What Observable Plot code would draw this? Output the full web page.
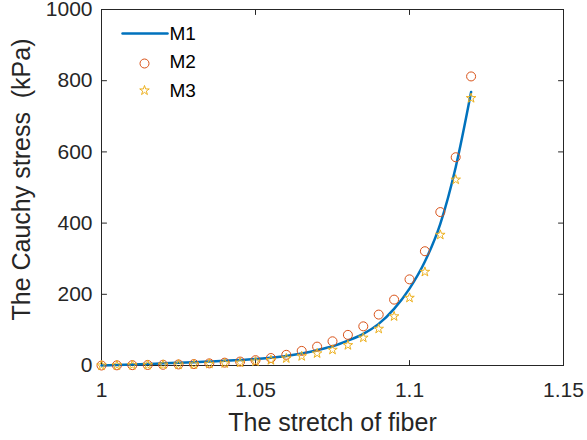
<!DOCTYPE html>
<html>
<head>
<meta charset="utf-8">
<script src="https://cdn.jsdelivr.net/npm/d3@7"></script>
<script src="https://cdn.jsdelivr.net/npm/@observablehq/plot@0.6"></script>
<style>
  html, body { margin: 0; padding: 0; background: #fff; }
  #chart svg { display: block; }
</style>
</head>
<body>
<div id="chart"></div>
<script>
// ---- data ----
const stretch = [1.000, 1.005, 1.010, 1.015, 1.020, 1.025, 1.030, 1.035, 1.040, 1.045,
                 1.050, 1.055, 1.060, 1.065, 1.070, 1.075, 1.080, 1.085, 1.090, 1.095,
                 1.100, 1.105, 1.110, 1.115, 1.120];
const M1 = [0, 1.5, 3, 4.5, 6, 7.5, 9, 11, 13, 15.5,
            18, 22, 27, 34, 43, 54, 70, 89, 117, 159,
            216, 292, 398, 557, 768];
const M2 = [0, 0.5, 1, 1.5, 2, 3, 4, 6, 8, 11,
            15, 21, 30, 41, 53, 68, 86, 110, 143, 185,
            242, 321, 431, 585, 812];
const M3 = [0, 0.5, 1, 1.5, 2, 2.5, 3, 4.5, 6, 8,
            11, 15, 20, 26, 34, 44, 57, 78, 103, 138,
            190, 263, 367, 522, 751];
const seriesNames = ["M1", "M2", "M3"];
const xTicks = [1, 1.05, 1.1, 1.15];
const xTickLabels = ["1", "1.05", "1.1", "1.15"];
const yTicks = [0, 200, 400, 600, 800, 1000];
const yTickLabels = ["0", "200", "400", "600", "800", "1000"];
const xLabel = "The stretch of fiber";
const yLabel = "The Cauchy stress\u00a0 (kPa)";

const colors = {M1: "#0072BD", M2: "#D95319", M3: "#EDB120"};
const ink = "#262626";
const font = "'Liberation Sans', Arial, Helvetica, sans-serif";

const rows = stretch.map((s, i) => ({x: s, m1: M1[i], m2: M2[i], m3: M3[i]}));

// a plain line segment shape for vector marks (ticks, legend swatch)
const segment = {
  draw(context, l) { context.moveTo(0, 0); context.lineTo(0, -l); }
};

const tickOpts = {length: 5, anchor: "start", shape: segment, stroke: ink, strokeWidth: 1};

const legendMarks = [
  Plot.vector([0], {frameAnchor: "top-left", dx: 21, dy: 24, rotate: 90, length: 45,
    anchor: "start", shape: segment, stroke: colors.M1, strokeWidth: 2.5}),
  Plot.dot([0], {frameAnchor: "top-left", dx: 43, dy: 54, r: 4.5, stroke: colors.M2, strokeWidth: 1}),
  Plot.dot([0], {frameAnchor: "top-left", dx: 43, dy: 81, r: 3, symbol: "star", stroke: colors.M3, fill: "none", strokeWidth: 1}),
  ...seriesNames.map((n, i) => Plot.text([n], {frameAnchor: "top-left", dx: 68, dy: 24 + i * 28.5,
    text: d => d, textAnchor: "start", lineAnchor: "middle", fontSize: 19, fill: "#000"}))
];

const chart = Plot.plot({
  width: 587,
  height: 440,
  marginLeft: 101,
  marginRight: 24,
  marginTop: 9,
  marginBottom: 75,
  style: {fontFamily: font, background: "#fff", color: ink},
  x: {domain: [1, 1.15]},
  y: {domain: [0, 1000]},
  marks: [
    Plot.frame({stroke: ink, strokeWidth: 1}),
    Plot.axisX(xTicks, {anchor: "bottom", tickSize: 0, tickPadding: 17, fontSize: 21,
      tickFormat: (d, i) => xTickLabels[i], label: null, fill: ink}),
    Plot.axisY(yTicks, {anchor: "left", tickSize: 0, tickPadding: 9, fontSize: 21,
      tickFormat: (d, i) => yTickLabels[i], label: null, fill: ink}),
    // inward ticks on all four sides
    Plot.vector(xTicks, {x: d => d, frameAnchor: "bottom", rotate: 0, ...tickOpts}),
    Plot.vector(xTicks, {x: d => d, frameAnchor: "top", rotate: 180, ...tickOpts}),
    Plot.vector(yTicks, {y: d => d, frameAnchor: "left", rotate: 90, ...tickOpts}),
    Plot.vector(yTicks, {y: d => d, frameAnchor: "right", rotate: -90, ...tickOpts}),
    Plot.line(rows, {x: "x", y: "m1", stroke: colors.M1, strokeWidth: 2.5, curve: "monotone-x"}),
    Plot.dot(rows, {x: "x", y: "m2", r: 4.5, stroke: colors.M2, strokeWidth: 1, fill: "none"}),
    Plot.dot(rows, {x: "x", y: "m3", r: 3, symbol: "star", stroke: colors.M3, strokeWidth: 1, fill: "none"}),
    Plot.text([xLabel], {frameAnchor: "bottom", dy: 57, text: d => d, textAnchor: "middle",
      lineAnchor: "middle", fontSize: 25, fill: ink}),
    Plot.text([yLabel], {frameAnchor: "left", dx: -80, dy: -8, rotate: -90, text: d => d,
      textAnchor: "middle", lineAnchor: "middle", fontSize: 25, fill: ink}),
    ...legendMarks
  ]
});

document.getElementById("chart").appendChild(chart);
</script>
</body>
</html>
